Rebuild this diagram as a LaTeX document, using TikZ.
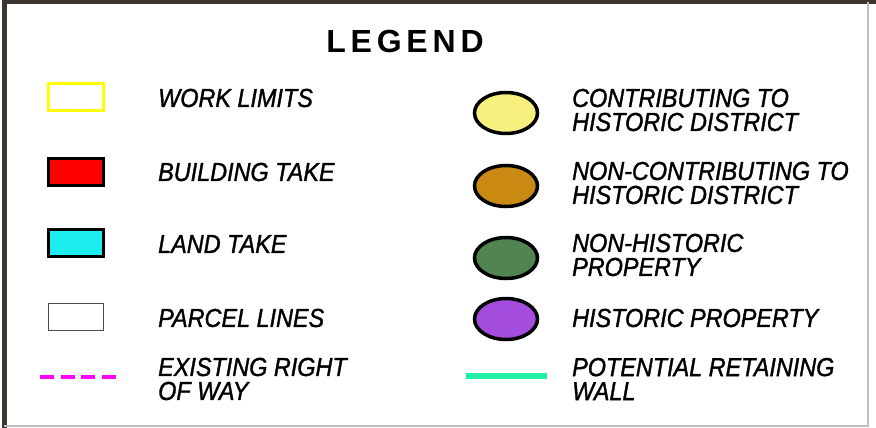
\documentclass[tikz,border=0pt]{standalone}
\usepackage{fontspec}
\usetikzlibrary{shapes.geometric}
\newfontfamily\cadfont[FakeStretch=0.9, FakeBold=1.3]{Liberation Sans Italic}
\newfontfamily\headfont[LetterSpace=15]{Liberation Sans Bold}
\definecolor{worklim}{HTML}{FFFF00}
\definecolor{bldtake}{HTML}{FF0000}
\definecolor{landtake}{HTML}{1CEEF0}
\definecolor{rowline}{HTML}{FF00FF}
\definecolor{contrib}{HTML}{F7F07E}
\definecolor{noncontrib}{HTML}{C98912}
\definecolor{nonhist}{HTML}{508450}
\definecolor{hist}{HTML}{A44CDE}
\definecolor{retwall}{HTML}{1EF0A4}
\definecolor{frameedge}{HTML}{3B3630}

\begin{document}
\begin{tikzpicture}[
  x=1pt, y=-1pt,
  swatch/.style={draw, line width=3.5pt, minimum width=55pt, minimum height=27pt, inner sep=0pt},
  blob/.style={ellipse, draw, line width=3.5pt, minimum width=63pt, minimum height=41pt, inner sep=0pt},
  lbl/.style={anchor=west, align=left, inner sep=0pt, font=\fontsize{26}{24}\selectfont\cadfont}
]
\useasboundingbox (0,0) rectangle (876,428);
% frame
\draw[frameedge, line width=5pt] (4,428) -- (4,2) -- (876,2);
\draw[black!25, line width=1.5pt] (4,426) -- (868,426) -- (868,2);

\node[font=\fontsize{32}{32}\selectfont\headfont, inner sep=0pt] (title) at (405,41) {LEGEND};

% left column
\node[swatch, draw=worklim, fill=white] (work) at (76,97) {};
\node[swatch, fill=bldtake] (bld) at (76,172) {};
\node[swatch, fill=landtake] (land) at (76,243) {};
\node[swatch, draw=black!70, line width=1.5pt, fill=white] (parcel) at (76,317) {};
\coordinate (row-a) at (40,377);
\coordinate (row-b) at (119,377);
\draw[rowline, line width=4pt, dash pattern=on 14pt off 6.5pt] (row-a) -- (row-b);

\node[lbl] (work-t) at (158,98) {WORK LIMITS};
\node[lbl] (bld-t) at (158,172) {BUILDING TAKE};
\node[lbl] (land-t) at (158,244) {LAND TAKE};
\node[lbl] (parcel-t) at (158,318) {PARCEL LINES};
\node[lbl] (row-t) at (158,379) {EXISTING RIGHT\\OF WAY};

% right column
\node[blob, fill=contrib] (contr) at (506,113) {};
\node[blob, fill=noncontrib] (ncontr) at (506,186) {};
\node[blob, fill=nonhist] (nhist) at (506,258) {};
\node[blob, fill=hist] (hist) at (506,319) {};
\coordinate (wall-a) at (466,376);
\coordinate (wall-b) at (547,376);
\draw[retwall, line width=6pt] (wall-a) -- (wall-b);

\node[lbl] (contr-t) at (572,110) {CONTRIBUTING TO\\HISTORIC DISTRICT};
\node[lbl] (ncontr-t) at (572,183) {NON-CONTRIBUTING TO\\HISTORIC DISTRICT};
\node[lbl] (nhist-t) at (572,255) {NON-HISTORIC\\PROPERTY};
\node[lbl] (hist-t) at (572,318) {HISTORIC PROPERTY};
\node[lbl] (wall-t) at (572,379) {POTENTIAL RETAINING\\WALL};
\end{tikzpicture}
\end{document}
